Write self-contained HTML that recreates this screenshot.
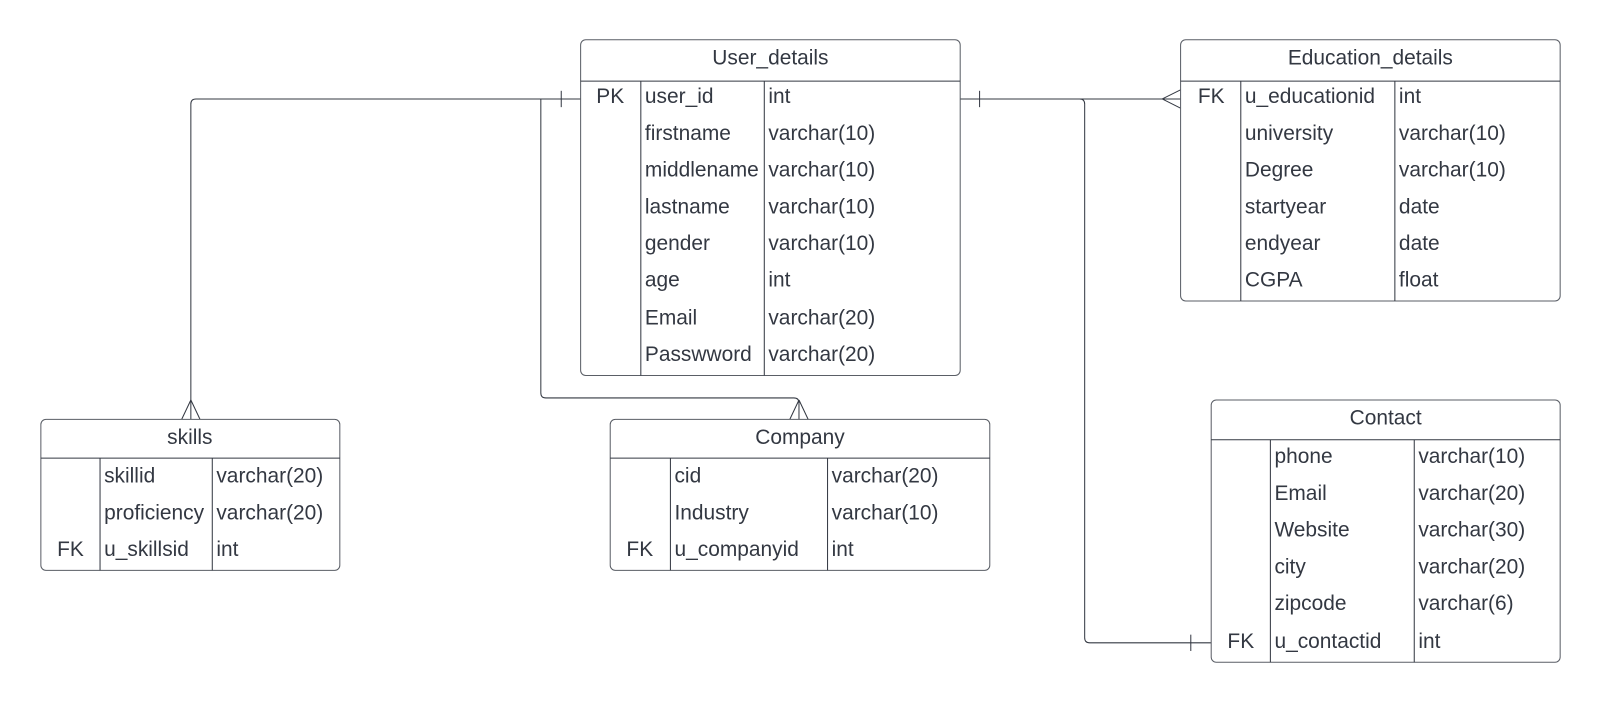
<!DOCTYPE html>
<html><head><meta charset="utf-8"><style>
html,body{margin:0;padding:0;background:#fff;}
svg{display:block}
text{font-family:"Liberation Sans",sans-serif;font-size:20.5px;fill:#333842;}
</style></head><body>
<svg width="1600" height="702" viewBox="0 0 1568 688" xmlns="http://www.w3.org/2000/svg">
<g fill="none" stroke="#333842" stroke-width="1">
<path d="M569,97 H192 Q187,97 187,102 V411"/>
<path d="M187,392 L178,411 M187,392 L196,411"/>
<path d="M550,89 V105"/>
<path d="M530,97 V385 Q530,390 535,390 H778 Q783,390 783,395 V411"/>
<path d="M783,392 L774,411 M783,392 L792,411"/>
<path d="M941,97 H1157"/>
<path d="M960,89 V105"/>
<path d="M1139,97 L1157,88 M1139,97 L1157,106"/>
<path d="M1058,97 Q1063,97 1063,102 V625 Q1063,630 1068,630 H1187"/>
<path d="M1167,622 V638"/>
</g>
<g fill="#fff" stroke="#5a5e66" stroke-width="1">
<rect x="569" y="39" width="372" height="329" rx="5"/>
<rect x="1157" y="39" width="372" height="256" rx="5"/>
<rect x="40" y="411" width="293" height="148" rx="5"/>
<rect x="598" y="411" width="372" height="148" rx="5"/>
<rect x="1187" y="392" width="342" height="257" rx="5"/>
</g>
<g stroke="#333842" stroke-width="1">
<path d="M569,79.5 H941 M628,79.5 V368 M749,79.5 V368"/>
<path d="M1157,79.5 H1529 M1216,79.5 V295 M1367,79.5 V295"/>
<path d="M40,449 H333 M98,449 V559 M208,449 V559"/>
<path d="M598,449 H970 M657,449 V559 M811,449 V559"/>
<path d="M1187,431 H1529 M1245,431 V649 M1386,431 V649"/>
</g>
<text x="755" y="63" text-anchor="middle">User_details</text>
<text x="598" y="101" text-anchor="middle">PK</text>
<text x="632" y="101">user_id</text><text x="753" y="101">int</text>
<text x="632" y="137">firstname</text><text x="753" y="137">varchar(10)</text>
<text x="632" y="173">middlename</text><text x="753" y="173">varchar(10)</text>
<text x="632" y="209">lastname</text><text x="753" y="209">varchar(10)</text>
<text x="632" y="245">gender</text><text x="753" y="245">varchar(10)</text>
<text x="632" y="281">age</text><text x="753" y="281">int</text>
<text x="632" y="318">Email</text><text x="753" y="318">varchar(20)</text>
<text x="632" y="354">Passwword</text><text x="753" y="354">varchar(20)</text>
<text x="1343" y="63" text-anchor="middle">Education_details</text>
<text x="1187" y="101" text-anchor="middle">FK</text>
<text x="1220" y="101">u_educationid</text><text x="1371" y="101">int</text>
<text x="1220" y="137">university</text><text x="1371" y="137">varchar(10)</text>
<text x="1220" y="173">Degree</text><text x="1371" y="173">varchar(10)</text>
<text x="1220" y="209">startyear</text><text x="1371" y="209">date</text>
<text x="1220" y="245">endyear</text><text x="1371" y="245">date</text>
<text x="1220" y="281">CGPA</text><text x="1371" y="281">float</text>
<text x="186" y="435" text-anchor="middle">skills</text>
<text x="102" y="473">skillid</text><text x="212" y="473">varchar(20)</text>
<text x="102" y="509">proficiency</text><text x="212" y="509">varchar(20)</text>
<text x="69" y="545" text-anchor="middle">FK</text>
<text x="102" y="545">u_skillsid</text><text x="212" y="545">int</text>
<text x="784" y="435" text-anchor="middle">Company</text>
<text x="661" y="473">cid</text><text x="815" y="473">varchar(20)</text>
<text x="661" y="509">Industry</text><text x="815" y="509">varchar(10)</text>
<text x="627" y="545" text-anchor="middle">FK</text>
<text x="661" y="545">u_companyid</text><text x="815" y="545">int</text>
<text x="1358" y="416" text-anchor="middle">Contact</text>
<text x="1249" y="454">phone</text><text x="1390" y="454">varchar(10)</text>
<text x="1249" y="490">Email</text><text x="1390" y="490">varchar(20)</text>
<text x="1249" y="526">Website</text><text x="1390" y="526">varchar(30)</text>
<text x="1249" y="562">city</text><text x="1390" y="562">varchar(20)</text>
<text x="1249" y="598">zipcode</text><text x="1390" y="598">varchar(6)</text>
<text x="1216" y="635" text-anchor="middle">FK</text>
<text x="1249" y="635">u_contactid</text><text x="1390" y="635">int</text>
</svg>
</body></html>
